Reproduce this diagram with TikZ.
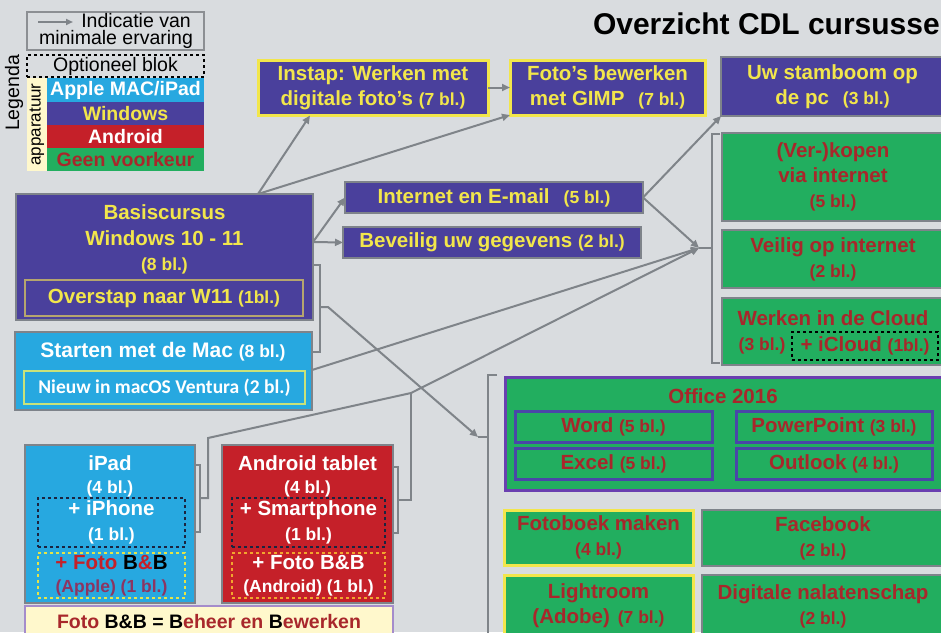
\documentclass[tikz,border=0pt]{standalone}
\usepackage{fontspec}
\setmainfont{Liberation Sans}
\newfontfamily\calfont{Carlito}
\usetikzlibrary{arrows.meta}
\definecolor{bg}{HTML}{D9DCDF}
\definecolor{winf}{HTML}{4A409C}
\definecolor{yel}{HTML}{F2E64B}
\definecolor{cyanf}{HTML}{27A8E0}
\definecolor{redf}{HTML}{C52029}
\definecolor{grnf}{HTML}{22AE5F}
\definecolor{dred}{HTML}{A8272B}
\definecolor{bgray}{HTML}{7E838A}
\definecolor{lgray}{HTML}{7F8489}
\definecolor{offpur}{HTML}{6A3FB0}
\definecolor{subblue}{HTML}{4A46A8}
\definecolor{tanb}{HTML}{B5A56E}
\definecolor{lgborder}{HTML}{C9E27A}
\definecolor{magtxt}{HTML}{8C3562}
\definecolor{legyel}{HTML}{FFF8CC}
\definecolor{legpur}{HTML}{A58CCB}
\definecolor{dashyel}{HTML}{E4E44A}
\definecolor{dashor}{HTML}{F2A52E}
\definecolor{navy}{HTML}{1B2440}
\definecolor{leggray}{HTML}{8C8F93}
\newcommand\smtxt[1]{{\fontsize{17.5}{20}\selectfont #1}}
\begin{document}
\begin{tikzpicture}[x=1pt,y=-1pt,
  every node/.style={inner sep=0pt, outer sep=0pt},
  box/.style={anchor=north west, align=center, line width=2pt, font=\fontsize{20.5}{25}\selectfont\bfseries},
  win/.style={box, fill=winf, draw=bgray, text=yel},
  winy/.style={win, draw=yel, line width=3pt},
  grn/.style={box, fill=grnf, draw=bgray, text=dred},
  grny/.style={grn, draw=yel, line width=3pt},
  sub/.style={grn, draw=subblue, line width=3pt},
  txt/.style={anchor=base, font=\fontsize{20.5}{25}\selectfont\bfseries},
  lt/.style={font=\fontsize{19.5}{17}\selectfont},
  lb/.style={anchor=north west, font=\fontsize{19.5}{20}\selectfont\bfseries},
  conn/.style={draw=lgray, line width=2pt},
  arr/.style={conn, -{Triangle[length=8pt,width=7pt]}}
]
\useasboundingbox (0,0) rectangle (941,632);
\clip (0,0) rectangle (941,632);
\fill[bg] (0,0) rectangle (941,632);

% ---------- legend ----------
\node[draw=leggray, line width=1.2pt, minimum width=177pt, minimum height=38pt, anchor=north west] (indic) at (27,12) {};
\node[lt, align=center, anchor=north] (indictxt) at (116,13.5) {\hspace{40pt}Indicatie van\\minimale ervaring};
\coordinate (ia) at (38,22);
\coordinate (ib) at (73,22);
\draw[draw=lgray, line width=1.8pt, -{Triangle[length=7pt,width=6pt]}] (ia) -- (ib);
\node[lt, draw=black, dashed, line width=1.5pt, minimum width=177pt, minimum height=22pt, anchor=north west] (opt) at (27,55) {Optioneel blok};
\node[fill=legyel, minimum width=20pt, minimum height=93pt, anchor=north west] (strip) at (27,78) {};
\node[rotate=90, font=\fontsize{17}{19}\selectfont] (app) at (37,124.5) {apparatuur};
\node[rotate=90, lt] (leg) at (14,93) {Legenda};
\node[lb, fill=cyanf, text=white, minimum width=157pt, minimum height=24pt] (lapple) at (47,78) {Apple MAC/iPad};
\node[lb, fill=winf, text=yel, minimum width=157pt, minimum height=23pt] (lwin) at (47,102) {Windows};
\node[lb, fill=redf, text=white, minimum width=157pt, minimum height=23pt] (landr) at (47,125) {Android};
\node[lb, fill=grnf, text=dred, minimum width=157pt, minimum height=23pt] (lgeen) at (47,148) {Geen voorkeur};

% ---------- title ----------
\node[anchor=base west, font=\fontsize{30}{32}\selectfont\bfseries] (title) at (593,34) {Overzicht CDL cursussen};

% ---------- top row ----------
\node[winy, minimum width=230pt, minimum height=55pt] (instap) at (258,60) {Instap: Werken met\\digitale foto’s \smtxt{(7 bl.)}};
\node[winy, minimum width=195pt, minimum height=55pt] (gimp) at (510,60) {Foto’s bewerken\\met GIMP\hspace{14pt}\smtxt{(7 bl.)}};
\node[win, minimum width=223pt, minimum height=59pt] (stam) at (721,57) {Uw stamboom op\\de pc\hspace{14pt}\smtxt{(3 bl.)}};

% ---------- middle ----------
\node[win, minimum width=298pt, minimum height=31pt] (inet) at (345,182) {Internet en E-mail\hspace{14pt}\smtxt{(5 bl.)}};
\node[win, minimum width=298pt, minimum height=31pt] (bev) at (343,227) {Beveilig uw gegevens \smtxt{(2 bl.)}};

% ---------- Basiscursus ----------
\node[win, minimum width=297pt, minimum height=126pt] (basis) at (16,194) {};
\node[txt, text=yel] (basis1) at (164.5,219) {Basiscursus};
\node[txt, text=yel] (basis2) at (164.5,245) {Windows 10 - 11};
\node[txt, text=yel] (basis3) at (164.5,270) {\smtxt{(8 bl.)}};
\node[win, draw=tanb, line width=1.5pt, minimum width=278pt, minimum height=36pt] (overstap) at (25,280) {Overstap naar W11 \smtxt{(1bl.)}};

% ---------- Mac ----------
\node[box, fill=cyanf, draw=bgray, minimum width=297pt, minimum height=78pt] (mac) at (15,332) {};
\node[txt, text=white, font=\fontsize{21}{25}\selectfont\bfseries] (mac1) at (163,357) {Starten met de Mac \smtxt{(8 bl.)}};
\node[box, fill=cyanf, draw=lgborder, line width=1.5pt, text=white, font=\fontsize{19.5}{22}\selectfont\calfont\bfseries, minimum width=281pt, minimum height=33pt] (ventura) at (24,371) {Nieuw in macOS Ventura (2 bl.)};

% ---------- iPad ----------
\node[box, fill=cyanf, draw=bgray, minimum width=170pt, minimum height=158pt] (ipad) at (25,445) {};
\node[txt, text=white] (ipad1) at (110,470) {iPad};
\node[txt, text=white] (ipad2) at (110,493) {\smtxt{(4 bl.)}};
\node[box, draw=navy, dashed, line width=1.8pt, text=white, minimum width=147pt, minimum height=49pt] (iphone) at (38,498) {+ iPhone\\\smtxt{(1 bl.)}};
\node[box, draw=dashyel, dashed, line width=1.5pt, minimum width=147pt, minimum height=45pt] (ipadbb) at (38,553) {\textcolor{redf}{+ Foto }B\textcolor{redf}{\&}B\\[-2pt]\smtxt{\textcolor{magtxt}{(Apple) (1 bl.)}}};

% ---------- Android ----------
\node[box, fill=redf, draw=bgray, minimum width=171pt, minimum height=158pt] (andr) at (222,445) {};
\node[txt, text=white] (andr1) at (307.5,470) {Android tablet};
\node[txt, text=white] (andr2) at (307.5,493) {\smtxt{(4 bl.)}};
\node[box, draw=navy, dashed, line width=1.8pt, text=white, minimum width=153pt, minimum height=49pt] (smart) at (232,498) {+ Smartphone\\\smtxt{(1 bl.)}};
\node[box, draw=dashor, dashed, line width=1.5pt, text=white, minimum width=153pt, minimum height=45pt] (andrbb) at (232,553) {+ Foto B\&B\\[-2pt]\smtxt{(Android) (1 bl.)}};

% ---------- legend bottom ----------
\node[box, fill=legyel, draw=legpur, minimum width=368pt, minimum height=40pt] (bbleg) at (25,606) {};
\node[txt, font=\fontsize{19.5}{22}\selectfont\bfseries] (bbleg1) at (209,628) {\textcolor{dred}{Foto }B\&B = B\textcolor{dred}{eheer en }B\textcolor{dred}{ewerken}};

% ---------- right column ----------
\node[grn, minimum width=222pt, minimum height=88pt] (verkopen) at (722,133) {(Ver-)kopen\\via internet\\\smtxt{(5 bl.)}};
\node[grn, minimum width=222pt, minimum height=58pt] (veilig) at (722,230) {Veilig op internet\\\smtxt{(2 bl.)}};
\node[grn, minimum width=222pt, minimum height=67pt] (cloud) at (722,298) {};
\node[txt, text=dred] (cloud1) at (833,325) {Werken in de Cloud};
\node[txt, text=dred] (cloud2) at (762,350) {\smtxt{(3 bl.)}};
\node[grn, fill=none, draw=black, dashed, line width=1.5pt, minimum width=146pt, minimum height=28pt] (icloud) at (792,332) {+ iCloud \smtxt{(1bl.)}};

% ---------- Office ----------
\node[grn, draw=offpur, line width=3pt, minimum width=440pt, minimum height=113pt] (office) at (505,377) {};
\node[txt, text=dred] (office1) at (723,403) {Office 2016};
\node[sub, minimum width=197pt, minimum height=31pt] (word) at (515,411) {Word \smtxt{(5 bl.)}};
\node[sub, minimum width=196pt, minimum height=31pt] (ppt) at (736,411) {PowerPoint \smtxt{(3 bl.)}};
\node[sub, minimum width=197pt, minimum height=31pt] (excel) at (515,448) {Excel \smtxt{(5 bl.)}};
\node[sub, minimum width=196pt, minimum height=31pt] (outlook) at (736,448) {Outlook \smtxt{(4 bl.)}};

\node[grny, minimum width=189pt, minimum height=55pt] (fotoboek) at (504,510) {Fotoboek maken\\\smtxt{(4 bl.)}};
\node[grn, minimum width=242pt, minimum height=56pt] (facebook) at (702,510) {Facebook\\\smtxt{(2 bl.)}};
\node[grny, minimum width=189pt, minimum height=62pt] (lightroom) at (504,575) {Lightroom\\(Adobe)\hspace{8pt}\smtxt{(7 bl.)}};
\node[grn, minimum width=242pt, minimum height=62pt] (digitaal) at (702,575) {Digitale nalatenschap\\\smtxt{(2 bl.)}};

% ---------- connectors ----------
\coordinate (btop) at (258,194);
\coordinate (instapin) at (310,115.5);
\coordinate (bright) at (313,242);
\coordinate (rc) at (699,248);
\coordinate (rcb) at (712,248);
\coordinate (macout) at (312,370);
\coordinate (ofin) at (478,437);
\coordinate (ofb) at (488,437);

\draw[arr] (btop) -- (instapin);
\draw[arr] (btop) -- (gimp.south west);
\draw[arr] (instap.east) -- (gimp.west);
\draw[arr] (bright) -- (inet.west);
\draw[arr] (bright) -- (bev.west);
\draw[arr] (inet.east) -- (stam.south west);
\draw[arr] (inet.east) -- (rc);
\draw[arr] (macout) -- (rc);
\draw[conn] (rc) -- (rcb);
% right column bracket
\draw[conn] (720,134) -- (712,134) -- (712,363) -- (720,363);
% Basis / Mac bracket
\draw[conn] (313,265) -- (320,265) -- (320,352) -- (312,352);
\draw[arr] (320,307) -- (328,307) -- (ofin);
\draw[conn] (ofin) -- (ofb);
% Office bracket
\draw[conn] (497,375) -- (488,375) -- (488,640);
% iPad bracket
\draw[conn] (195,465) -- (200,465) -- (200,532) -- (195,532);
\draw[arr] (200,498) -- (208,498) -- (208,438) -- (411,393) -- (rc);
% Android bracket
\draw[conn] (393,467) -- (398,467) -- (398,533) -- (393,533);
\draw[conn] (398,500) -- (411,500) -- (411,393);
\end{tikzpicture}
\end{document}
